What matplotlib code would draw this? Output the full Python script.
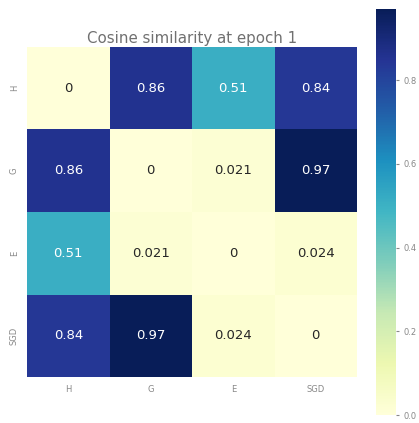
import matplotlib
matplotlib.use("Agg")
import matplotlib.pyplot as plt
import numpy as np
import seaborn as sns

# methods compared
labels = ['H', 'G', 'E', 'SGD']
# pairwise cosine similarity (symmetric, zero diagonal)
row_h = [0, 0.86, 0.51, 0.84]
row_g = [0.86, 0, 0.021, 0.97]
row_e = [0.51, 0.021, 0, 0.024]
row_sgd = [0.84, 0.97, 0.024, 0]
title = 'Cosine similarity at epoch 1'

sim = np.array([row_h, row_g, row_e, row_sgd])

W, H = 419, 423
fig = plt.figure(figsize=(W / 100, H / 100), dpi=100)
ax = fig.add_axes([27 / W, (H - 377) / H, 330 / W, 330 / H])
cax = fig.add_axes([376 / W, (H - 415) / H, 20 / W, 406 / H])

sns.heatmap(sim, ax=ax, cbar_ax=cax, cmap='YlGnBu', annot=True,
            annot_kws={'fontsize': 9.5}, xticklabels=labels, yticklabels=labels)

ax.set_title(title, fontsize=10.8, color='#707070', pad=3)
ax.tick_params(axis='both', labelsize=6, colors='#888888', length=0, pad=6)
cax.tick_params(labelsize=6, colors='#888888', length=2)
for s in cax.spines.values():
    s.set_visible(False)

fig.savefig('out.png', dpi=100)
